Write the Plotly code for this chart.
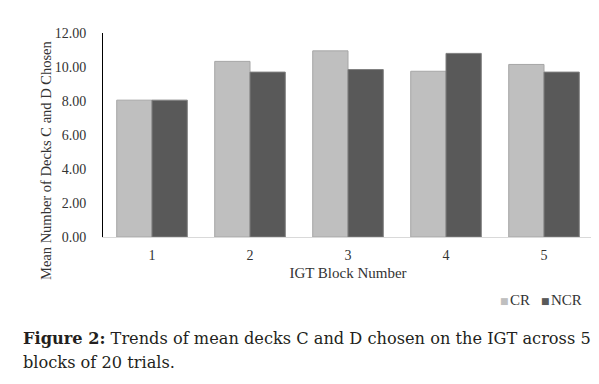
import plotly.graph_objects as go

blocks = ["1", "2", "3", "4", "5"]
cr_values = [8.05, 10.33, 10.95, 9.75, 10.15]
ncr_values = [8.05, 9.70, 9.85, 10.80, 9.70]
y_ticks = [0, 2, 4, 6, 8, 10, 12]
series_names = ["CR", "NCR"]
series_colors = ["#bfbfbf", "#595959"]
caption_lines = ["<b>Figure 2:</b> Trends of mean decks C and D chosen on the IGT across 5",
                 "blocks of 20 trials."]

FONT = "Liberation Serif"
TXT = "#333333"

# the page body has an 8px margin, so the figure is sized to fit the 599x384 window
W, H = 591, 376
L, T, R, B = 95, 25, 6, 147
PW, PH = W - L - R, H - T - B


def px_x(x):  # window x -> paper coords
    return (x - 8 - L) / PW


def px_y(y):  # window y -> paper coords
    return (H - B - (y - 8)) / PH


fig = go.Figure()
fig.add_trace(go.Bar(x=blocks, y=cr_values, name=series_names[0],
                     marker=dict(color=series_colors[0], line=dict(color="#a6a6a6", width=1))))
fig.add_trace(go.Bar(x=blocks, y=ncr_values, name=series_names[1],
                     marker=dict(color=series_colors[1], line=dict(color="#7f7f7f", width=1))))

fig.update_layout(
    width=W, height=H,
    margin=dict(l=L, r=R, t=T, b=B),
    paper_bgcolor="white", plot_bgcolor="white",
    barmode="group", bargap=0.28, bargroupgap=0,
    font=dict(family=FONT, size=13, color=TXT),
    showlegend=False,
    xaxis=dict(showline=True, linecolor="#d9d9d9", linewidth=1, ticks="",
               automargin=False, ticklabelstandoff=5,
               tickfont=dict(family=FONT, size=14, color=TXT),
               title=dict(text="IGT Block Number", font=dict(family=FONT, size=15, color=TXT),
                          standoff=5)),
    yaxis=dict(range=[0, 12], tickvals=y_ticks, tickformat=".2f", showgrid=False,
               showline=True, linecolor="black", linewidth=1, ticks="", zeroline=False,
               automargin=False, ticklabelstandoff=13,
               tickfont=dict(family=FONT, size=14, color=TXT)),
)

fig.add_annotation(text="Mean Number of Decks C and D Chosen", textangle=-90,
                   xref="paper", yref="paper", x=px_x(46), y=px_y(160), showarrow=False,
                   xanchor="center", yanchor="middle",
                   font=dict(family=FONT, size=14.5, color=TXT))

# legend drawn as small squares + labels
legend_sq_x = [499, 540]
legend_txt_x = [509, 550]
for name, color, sx, tx in zip(series_names, series_colors, legend_sq_x, legend_txt_x):
    fig.add_annotation(text="■", xref="paper", yref="paper", x=px_x(sx), y=px_y(301),
                       xanchor="left", yanchor="middle", showarrow=False, borderpad=0,
                       font=dict(family="DejaVu Sans", size=9, color=color))
    fig.add_annotation(text=name, xref="paper", yref="paper", x=px_x(tx), y=px_y(300),
                       xanchor="left", yanchor="middle", showarrow=False, borderpad=0,
                       font=dict(family=FONT, size=15, color=TXT))

for line, yc in zip(caption_lines, [338, 362]):
    fig.add_annotation(text=line, xref="paper", yref="paper", x=px_x(21), y=px_y(yc),
                       xanchor="left", yanchor="middle", align="left", showarrow=False,
                       font=dict(family="DejaVu Serif", size=16.2, color="#231f20"))

fig.write_html("out.html")
